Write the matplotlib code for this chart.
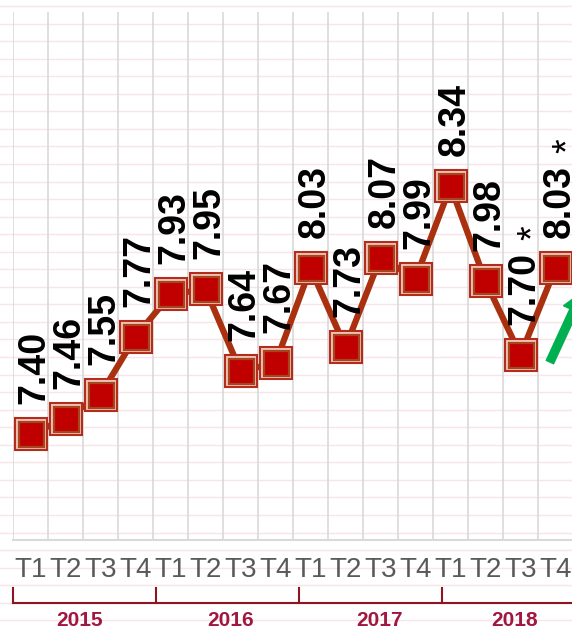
import numpy as np
import matplotlib
matplotlib.use('Agg')
import matplotlib.pyplot as plt
from matplotlib.lines import Line2D
from matplotlib.patches import FancyArrowPatch
import matplotlib.transforms as mtransforms

plt.rcParams['font.family'] = ['Liberation Sans', 'DejaVu Sans']

# ---- data ----
years = ['2015', '2016', '2017', '2018']
quarters = ['T1', 'T2', 'T3', 'T4']
values = [7.40, 7.46, 7.55, 7.77,
          7.93, 7.95, 7.64, 7.67,
          8.03, 7.73, 8.07, 7.99,
          8.34, 7.98, 7.70, 8.03]
value_labels = ['7.40', '7.46', '7.55', '7.77',
                '7.93', '7.95', '7.64', '7.67',
                '8.03', '7.73', '8.07', '7.99',
                '8.34', '7.98', '7.70', '8.03']
provisional = [False] * 14 + [True, True]
tick_labels = quarters * len(years)

# decoration positions (x in category units)
bracket_edges = [-0.5, 3.59, 7.67, 11.76, 16.2]
year_label_x = [1.41, 5.73, 9.96, 13.84]

W, H = 572, 627
fig = plt.figure(figsize=(W / 100, H / 100), dpi=100)
fig.patch.set_facecolor('white')

# notebook-like pink background lines
for k in range(36):
    yy = 1 - (6 + 17.55 * k) / H
    fig.add_artist(Line2D([0, 1], [yy, yy], color='#F9E4E8', lw=1.0, zorder=0))

ax = fig.add_axes([13 / W, 1 - 540 / H, 560 / W, 528 / H])
ax.set_facecolor('none')
x = np.arange(len(values))
ax.set_xlim(-0.5, len(values) - 0.5)
ax.set_ylim(7, 9)

ax.set_xticks(np.arange(-0.5, len(values), 1), minor=True)
ax.set_xticks(x)
ax.set_xticklabels(tick_labels, fontsize=20, color='#595959')
ax.tick_params(axis='x', which='both', length=0, pad=12.5)
ax.set_yticks([])
ax.grid(which='minor', axis='x', color='#D9D9D9', lw=1.2)
for s in ['left', 'right', 'top']:
    ax.spines[s].set_visible(False)
ax.spines['bottom'].set_color('#D9D9D9')
ax.spines['bottom'].set_linewidth(1.5)

# line
ax.plot(x, values, color='#A9310F', lw=4.5, zorder=3, solid_capstyle='round')

# markers (each drawn in turn so later ones overlap earlier)
for i, (xi, v) in enumerate(zip(x, values)):
    z = 4 + i * 0.01
    ax.plot([xi], [v], marker='s', ms=22.5, mfc='#F2C4B8', mec='#B32D1C',
            mew=1.5, zorder=z, clip_on=False)
    ax.plot([xi], [v], marker='s', ms=18.0, mfc='#C00000', mec='#A6461F',
            mew=1.6, zorder=z + 0.005, clip_on=False)

# value labels
for xi, v, lab, p in zip(x, values, value_labels, provisional):
    ax.annotate(lab, (xi, v), xytext=(4, 30), textcoords='offset pixels',
                rotation=90, ha='center', va='bottom', fontsize=27,
                fontweight='bold', color='black', zorder=6,
                annotation_clip=False)
    if p:
        ax.annotate('*', (xi, v), xytext=(13, 115), textcoords='offset pixels',
                    rotation=90, ha='center', va='bottom', fontsize=27,
                    color='black', zorder=6, annotation_clip=False)

# green arrow
arrow = FancyArrowPatch(posA=(14.84, 7.674), posB=(15.76, 7.939),
                        arrowstyle='simple,head_length=1.45,head_width=1.6,tail_width=0.58',
                        mutation_scale=10, color='#00B050', shrinkA=0, shrinkB=0,
                        zorder=7, clip_on=False)
ax.add_patch(arrow)

# year brackets
trans = mtransforms.blended_transform_factory(ax.transData, fig.transFigure)
yb = 1 - 603 / H
yt = 1 - 588 / H
bcol = '#8E1420'
ax.add_line(Line2D([bracket_edges[0], bracket_edges[-1]], [yb, yb], transform=trans,
                   color=bcol, lw=1.5, clip_on=False))
for e in bracket_edges[:-1]:
    ax.add_line(Line2D([e, e], [yb, yt], transform=trans, color=bcol, lw=1.5,
                       clip_on=False))
for xl, yr in zip(year_label_x, years):
    ax.text(xl, 1 - 626.5 / H, yr, transform=trans, ha='center', va='baseline',
            fontsize=15, fontweight='bold', color='#A0173F', clip_on=False)

fig.savefig('out.png', dpi=100)
